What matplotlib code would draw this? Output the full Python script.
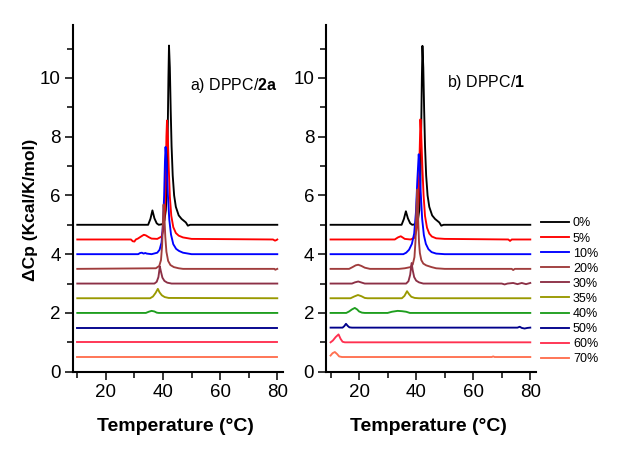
#!/usr/bin/env python3

import matplotlib
matplotlib.use("Agg")
import matplotlib.pyplot as plt
from matplotlib.ticker import MultipleLocator

plt.rcParams['font.family'] = ['Liberation Sans', 'DejaVu Sans']
plt.rcParams['mathtext.fontset'] = 'custom'
plt.rcParams['mathtext.rm'] = 'Liberation Sans'
plt.rcParams['mathtext.bf'] = 'Liberation Sans:bold'

labels = ["0%", "5%", "10%", "20%", "30%", "35%", "40%", "50%", "60%", "70%"]
colors = ["#000000", "#ff0000", "#0000ff", "#a03c3c", "#8c3046",
          "#999900", "#1e9e1e", "#00008b", "#ff3050", "#ff7050"]

# ---- panel a) DPPC/2a : (temperature, dCp) points
a_00 = [(10, 5.0), (34.8, 5.0), (35.6, 5.2), (36.3, 5.49), (37.0, 5.22),
        (37.8, 5.05), (38.5, 5.0), (39.8, 5.02), (40.5, 5.15), (41.0, 5.5),
        (41.4, 6.5), (41.7, 8.5), (41.9, 10.0), (42.1, 11.1), (42.4, 10.35),
        (42.7, 8.9), (43.0, 7.69), (43.4, 6.68), (43.9, 6.0), (44.5, 5.61),
        (45.5, 5.32), (46.5, 5.2), (48.0, 5.08), (48.7, 4.97), (49.5, 5.0),
        (80, 5.0)]
a_05 = [(10, 4.5), (28.8, 4.5), (29.4, 4.44), (30.0, 4.43), (30.5, 4.5),
        (31.2, 4.53), (32.3, 4.6), (33.3, 4.66), (34.0, 4.64), (35.0, 4.58),
        (36.0, 4.53), (38.0, 4.52), (39.5, 4.6), (40.2, 4.85), (40.7, 5.5),
        (41.0, 6.8), (41.2, 8.0), (41.4, 8.55), (41.7, 8.0), (42.0, 6.97),
        (42.4, 5.96), (42.9, 5.31), (43.6, 4.92), (44.5, 4.72), (45.5, 4.63),
        (47.0, 4.57), (50.0, 4.52), (78.5, 4.5), (79.2, 4.46), (79.7, 4.48),
        (80, 4.5)]
a_10 = [(10, 4.0), (31.3, 4.0), (32.0, 4.04), (32.6, 4.05), (33.2, 4.02),
        (33.8, 4.04), (34.3, 4.02), (36.0, 4.0), (38.0, 4.05), (38.8, 4.15),
        (39.5, 4.4), (40.0, 5.0), (40.4, 6.0), (40.7, 7.2), (40.9, 7.65),
        (41.3, 7.04), (41.7, 6.04), (42.2, 5.18), (42.8, 4.67), (43.6, 4.34),
        (44.6, 4.18), (45.6, 4.11), (47.0, 4.05), (50.0, 4.0), (80, 4.0)]
a_20 = [(10, 3.5), (37.5, 3.52), (38.7, 3.6), (39.3, 3.8), (39.7, 4.3),
        (40.0, 5.2), (40.2, 5.69), (40.5, 5.26), (40.8, 4.6), (41.2, 4.08),
        (41.8, 3.77), (42.6, 3.63), (43.8, 3.56), (45.5, 3.52), (47.0, 3.5),
        (79.0, 3.5), (79.3, 3.47), (80, 3.5)]
a_30 = [(10, 3.0), (37.0, 3.0), (37.8, 3.06), (38.4, 3.22), (38.9, 3.58),
        (39.3, 3.4), (39.8, 3.2), (40.5, 3.09), (41.5, 3.03), (43.0, 3.0),
        (80, 3.0)]
a_35 = [(10, 2.5), (35.5, 2.5), (36.5, 2.56), (37.4, 2.68), (38.2, 2.82),
        (38.8, 2.7), (39.6, 2.6), (40.6, 2.54), (42.0, 2.51), (80, 2.5)]
a_40 = [(10, 2.0), (34.0, 2.0), (35.0, 2.04), (36.0, 2.07), (37.0, 2.05),
        (37.8, 2.01), (38.5, 2.0), (80, 2.0)]
a_50 = [(10, 1.5), (80, 1.5)]
a_60 = [(10, 1.0), (80, 1.0)]
a_70 = [(10, 0.5), (80, 0.5)]

# ---- panel b) DPPC/1
b_00 = [(10, 5.0), (34.9, 5.0), (35.7, 5.2), (36.4, 5.46), (37.1, 5.22),
        (37.9, 5.05), (38.6, 5.0), (39.9, 5.02), (40.6, 5.15), (41.1, 5.5),
        (41.5, 6.5), (41.8, 8.5), (42.0, 10.0), (42.2, 11.09), (42.5, 10.35),
        (42.8, 8.9), (43.1, 7.69), (43.5, 6.68), (44.0, 6.0), (44.6, 5.61),
        (45.6, 5.32), (46.6, 5.2), (48.1, 5.08), (48.8, 4.97), (49.6, 5.0),
        (80, 5.0)]
b_05 = [(10, 4.5), (32.5, 4.5), (33.6, 4.57), (34.6, 4.61), (35.4, 4.56),
        (36.0, 4.52), (38.0, 4.5), (39.5, 4.56), (40.3, 4.9), (40.8, 5.8),
        (41.2, 7.4), (41.5, 8.59), (41.8, 8.0), (42.2, 6.9), (42.6, 6.0),
        (43.1, 5.3), (43.8, 4.9), (44.6, 4.7), (45.5, 4.6), (47.0, 4.54),
        (50.0, 4.52), (72.3, 4.5), (72.9, 4.45), (73.5, 4.5), (80, 4.5)]
b_10 = [(10, 4.0), (35.5, 4.0), (36.5, 4.05), (37.5, 4.15), (38.5, 4.35),
        (39.3, 4.7), (39.9, 5.4), (40.4, 6.5), (40.9, 7.4), (41.2, 7.0),
        (41.6, 6.1), (42.1, 5.2), (42.7, 4.65), (43.4, 4.35), (44.3, 4.17),
        (45.4, 4.07), (47.0, 4.02), (50.0, 4.0), (80, 4.0)]
b_20 = [(10, 3.5), (16.5, 3.5), (17.7, 3.56), (18.8, 3.62), (19.7, 3.64),
        (20.8, 3.6), (22.0, 3.54), (23.8, 3.5), (34.0, 3.5), (36.0, 3.52),
        (38.0, 3.56), (38.8, 3.65), (39.4, 3.9), (39.8, 4.5), (40.1, 5.6),
        (40.4, 6.2), (40.7, 5.2), (41.0, 4.4), (41.3, 4.04), (41.8, 3.8),
        (42.5, 3.68), (43.5, 3.62), (45.4, 3.56), (47.0, 3.52), (50.0, 3.5),
        (73.5, 3.5), (74.0, 3.46), (74.6, 3.5), (80, 3.5)]
b_30 = [(10, 3.0), (17.5, 3.0), (18.5, 3.04), (19.7, 3.07), (21.0, 3.03),
        (22.0, 3.0), (36.5, 3.0), (37.3, 3.08), (37.9, 3.3), (38.4, 3.7),
        (38.8, 3.45), (39.3, 3.22), (40.0, 3.1), (41.0, 3.04), (42.5, 3.0),
        (70.0, 3.0), (71.0, 2.97), (72.0, 3.0), (74.0, 3.02), (75.5, 2.98),
        (77.0, 3.02), (78.5, 2.98), (80, 3.02)]
b_35 = [(10, 2.5), (17.0, 2.5), (18.3, 2.56), (19.6, 2.61), (20.8, 2.57),
        (22.0, 2.51), (23.0, 2.5), (35.0, 2.5), (35.9, 2.58), (36.8, 2.74),
        (37.5, 2.64), (38.3, 2.55), (39.5, 2.51), (41.0, 2.5), (80, 2.5)]
b_40 = [(10, 2.0), (15.5, 2.0), (16.5, 2.05), (17.5, 2.12), (18.5, 2.17),
        (19.3, 2.12), (20.0, 2.05), (21.0, 2.01), (22.0, 2.0), (30.0, 2.0),
        (31.5, 2.04), (33.5, 2.07), (35.0, 2.06), (36.5, 2.04), (37.8, 2.0),
        (80, 2.0)]
b_50 = [(10, 1.5), (14.2, 1.5), (14.8, 1.55), (15.4, 1.63), (16.0, 1.56),
        (16.6, 1.51), (17.5, 1.5), (75.5, 1.5), (76.3, 1.53), (77.0, 1.49),
        (78.0, 1.47), (79.0, 1.49), (80, 1.5)]
b_60 = [(10, 1.0), (10.8, 1.06), (11.8, 1.18), (12.8, 1.27), (13.5, 1.12),
        (14.2, 1.02), (15.0, 1.0), (80, 1.0)]
b_70 = [(10, 0.55), (10.7, 0.63), (11.5, 0.67), (12.3, 0.6), (13.0, 0.52),
        (14.0, 0.5), (66.5, 0.5), (67.0, 0.52), (67.5, 0.5), (80, 0.5)]

panel_a = [a_00, a_05, a_10, a_20, a_30, a_35, a_40, a_50, a_60, a_70]
panel_b = [b_00, b_05, b_10, b_20, b_30, b_35, b_40, b_50, b_60, b_70]

W, H = 627, 453
fig = plt.figure(figsize=(W / 100, H / 100), dpi=100)
ax1 = fig.add_axes([72.7 / W, 1 - 371.7 / H, 210.3 / W, 346.7 / H])
ax2 = fig.add_axes([326.0 / W, 1 - 371.7 / H, 210.0 / W, 346.7 / H])

for ax, curves in ((ax1, panel_a), (ax2, panel_b)):
  for pts, c, lab in zip(curves, colors, labels):
    t = [p[0] for p in pts]
    cp = [p[1] for p in pts]
    ax.plot(t, cp, color=c, lw=1.35, label=lab)
  ax.set_xlim(8.4, 82)
  ax.set_ylim(0, 11.8)
  ax.xaxis.set_major_locator(MultipleLocator(20))
  ax.xaxis.set_minor_locator(MultipleLocator(10))
  ax.yaxis.set_major_locator(MultipleLocator(2))
  ax.yaxis.set_minor_locator(MultipleLocator(1))
  ax.spines['right'].set_visible(False)
  ax.spines['top'].set_visible(False)
  for s in ('left', 'bottom'):
    ax.spines[s].set_linewidth(1.5)
  ax.tick_params(which='major', length=5.5, width=1.1, labelsize=13.5,
                 direction='out', pad=3)
  ax.tick_params(which='minor', length=4, width=1.1, direction='out')
  ax.set_xlabel('Temperature (°C)', fontsize=14, fontweight='bold')
  ax.xaxis.set_label_coords(0.49, -0.133)

ax1.set_ylabel('ΔCp (Kcal/K/mol)', fontsize=12.5, fontweight='bold')
ax1.yaxis.set_label_coords(-0.165, 0.466)

ax1.text(49.3, 9.59, r'a) DPPC/$\mathbf{2a}$', fontsize=11.5)
ax2.text(50.7, 9.7, r'b) DPPC/$\mathbf{1}$', fontsize=11.5)

ax2.legend(loc='upper left', bbox_to_anchor=(541 / W, 1 - 217.5 / H),
           bbox_transform=fig.transFigure, frameon=False, fontsize=9,
           handlelength=2.2, handletextpad=0.35, labelspacing=0.245,
           borderpad=0, borderaxespad=0)

fig.savefig("out.png", dpi=100)
